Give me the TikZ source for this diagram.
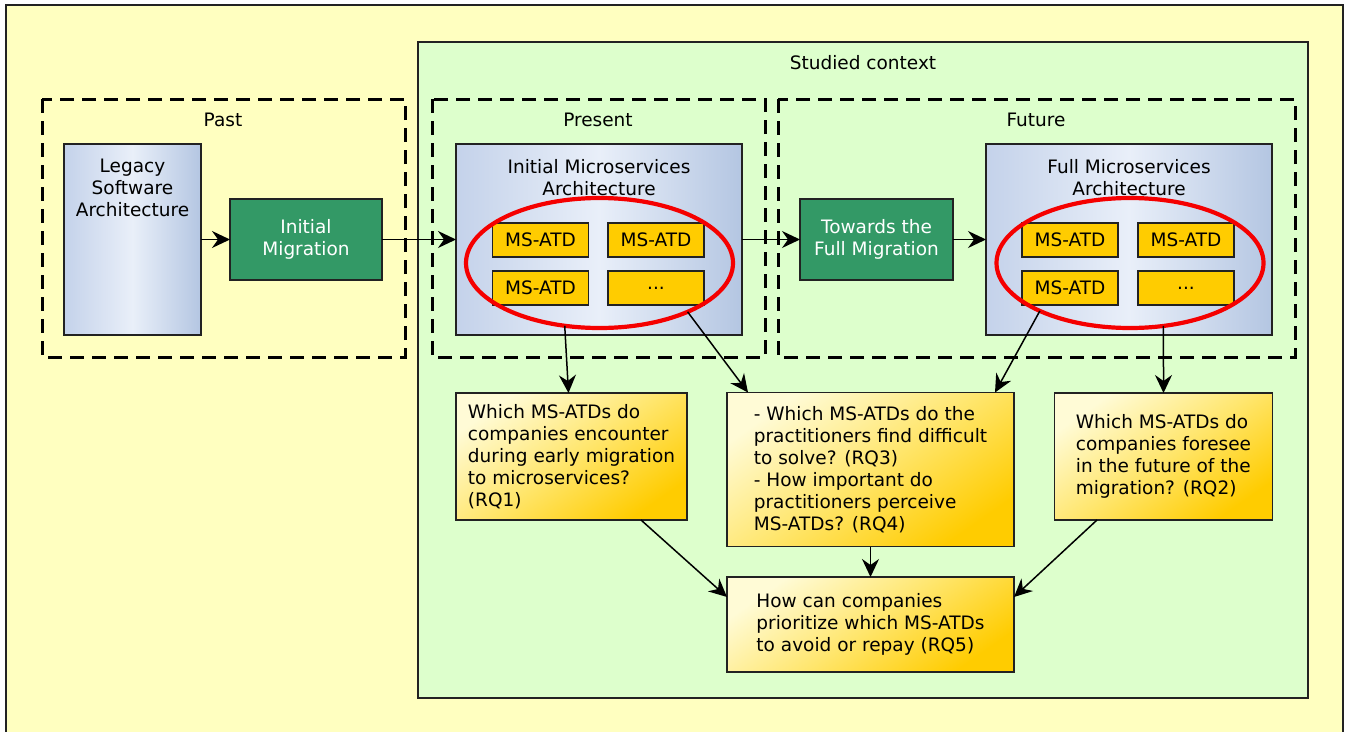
\documentclass[tikz,border=0pt]{standalone}
\usepackage{fontspec}
\setmainfont{DejaVu Sans}
\usetikzlibrary{arrows.meta,shapes.geometric,calc}
\definecolor{outerbg}{RGB}{255,255,192}
\definecolor{ctxbg}{RGB}{221,255,204}
\definecolor{migr}{RGB}{51,153,102}
\definecolor{atd}{RGB}{255,204,0}
\definecolor{qlight}{RGB}{255,251,214}
\definecolor{qmid}{RGB}{255,230,110}
\definecolor{blueL}{RGB}{196,210,234}
\definecolor{blueM}{RGB}{233,239,249}
\definecolor{blueR}{RGB}{180,198,226}
\definecolor{edge}{RGB}{34,34,34}
\definecolor{ellred}{RGB}{245,0,0}
\begin{document}
\begin{tikzpicture}[x=1pt,y=-1pt,
  every node/.style={font=\fontsize{18.5}{22}\selectfont, inner sep=0pt, outer sep=0pt},
  frame/.style={draw=edge, line width=1.3pt},
  phase/.style={draw=black, line width=3pt, dash pattern=on 14pt off 8pt},
  arch/.style={draw=edge, line width=1.2pt, left color=blueL, right color=blueR, middle color=blueM},
  migbox/.style={draw=edge, line width=1.2pt, fill=migr, text=white, align=center, minimum height=81pt},
  atdbox/.style={draw=edge, line width=1.2pt, fill=atd, minimum width=96pt, minimum height=34pt},
  qbox/.style={draw=edge, line width=1.2pt, top color=qlight, bottom color=atd, middle color=qmid, shading angle=35, align=left},
  redell/.style={ellipse, draw=ellred, line width=4.2pt, minimum width=267pt, minimum height=130pt},
  conn/.style={draw=black, line width=1.5pt, -{Stealth[length=18pt,width=17pt,inset=6pt]}},
  lbl/.style={align=center}
]
\useasboundingbox (0,0) rectangle (1348,731);
\fill[white] (0,0) rectangle (1348,731);
% outer frame and studied context
\draw[frame, fill=outerbg] (6,5) rectangle (1343,745);
\draw[frame, fill=ctxbg] (418,42) rectangle (1308,698);
\node (ctxlbl) at (863,63) {Studied context};
% phases
\draw[phase] (42,99) rectangle (405,357);
\draw[phase] (432,99) rectangle (765,357);
\draw[phase] (778,99) rectangle (1295,357);
\node (pastlbl) at (223,120) {Past};
\node (preslbl) at (598,120) {Present};
\node (futlbl) at (1036,120) {Future};
% past
\node[arch, minimum width=137pt, minimum height=191pt] (legacy) at (132.5,239.5) {};
\node[lbl, anchor=north] (legacylbl) at (132.5,159.5) {Legacy\\Software\\Architecture};
\node[migbox, minimum width=152pt] (im) at (306,239.5) {Initial\\Migration};
% present
\node[arch, minimum width=286pt, minimum height=191pt] (init) at (599,239.5) {};
\node[lbl, anchor=north] (initlbl) at (599,159.5) {Initial Microservices\\Architecture};
\node[atdbox] (a1) at (540.5,240) {MS-ATD};
\node[atdbox] (a2) at (656,240) {MS-ATD};
\node[atdbox] (a3) at (540.5,288) {MS-ATD};
\node[atdbox] (a4) at (656,288) {...};
\node[redell] (e1) at (599.5,263) {};
% future
\node[migbox, minimum width=153pt] (tow) at (876.5,239.5) {Towards the\\Full Migration};
\node[arch, minimum width=286pt, minimum height=191pt] (full) at (1129,239.5) {};
\node[lbl, anchor=north] (fulllbl) at (1129,159.5) {Full Microservices\\Architecture};
\node[atdbox] (b1) at (1070,240) {MS-ATD};
\node[atdbox] (b2) at (1186,240) {MS-ATD};
\node[atdbox] (b3) at (1070,288) {MS-ATD};
\node[atdbox] (b4) at (1186,288) {...};
\node[redell] (e2) at (1130,263) {};
% questions
\node[qbox, minimum width=231pt, minimum height=127pt] (q1) at (571.5,456.5)
  {Which MS-ATDs do\\companies encounter\\during early migration\\to microservices?\\(RQ1)};
\node[qbox, minimum width=287pt, minimum height=154pt] (q34) at (870.5,469.5)
  {- Which MS-ATDs do the\\practitioners find difficult\\to solve? (RQ3)\\- How important do\\practitioners perceive\\MS-ATDs? (RQ4)};
\node[qbox, minimum width=218pt, minimum height=127pt] (q2) at (1163.5,456.5)
  {Which MS-ATDs do\\companies foresee\\in the future of the\\migration? (RQ2)};
\node[qbox, minimum width=287pt, minimum height=95pt] (q5) at (870.5,624.5)
  {How can companies\\prioritize which MS-ATDs\\to avoid or repay (RQ5)};
% connectors
\draw[conn] (legacy.east) -- (im.west);
\draw[conn] (im.east) -- (init.west);
\draw[conn] (init.east) -- (tow.west);
\draw[conn] (tow.east) -- (full.west);
\draw[conn] (e1.241) -- ($(q1.north)+(-3,0)$);
\draw[conn] (e1.331) -- ($(q34.north west)+(21,0)$);
\draw[conn] (e2.208) -- ($(q34.north east)+(-19,0)$);
\draw[conn] (e2.298) -- (q2.north);
\draw[conn] ($(q1.south)+(69.5,0)$) -- ($(q5.west)+(0,-27.5)$);
\draw[conn] (q34.south) -- (q5.north);
\draw[conn] ($(q2.south)+(-66.5,0)$) -- ($(q5.east)+(0,-27.5)$);
\end{tikzpicture}
\end{document}
